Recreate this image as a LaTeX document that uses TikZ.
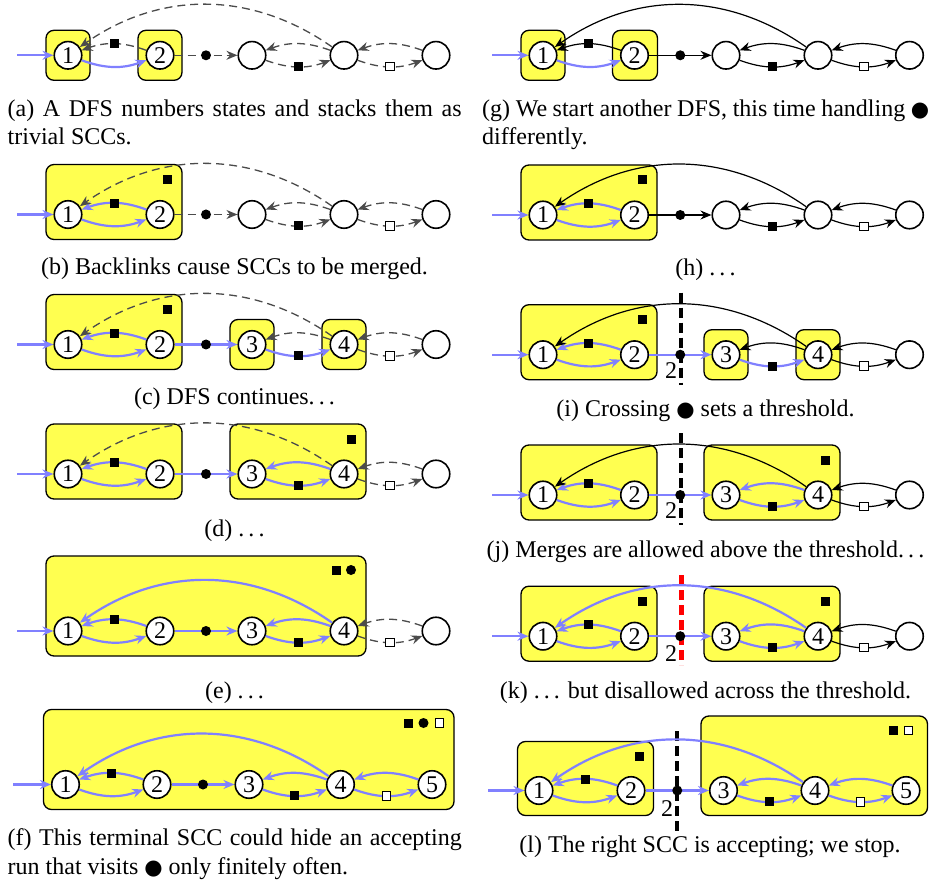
\documentclass[tikz,border=0pt]{standalone}
\usepackage{fontspec}
\setmainfont{Liberation Serif}
\newfontfamily\dejavu{DejaVu Sans}
\usetikzlibrary{arrows.meta}
\definecolor{sccy}{RGB}{255,255,80}
\definecolor{bedge}{RGB}{128,128,255}
\definecolor{gedge}{RGB}{75,75,75}
\newcommand{\bigdot}{{\fontsize{21}{21}\dejavu ●}}
\newcommand{\ldd}{.\kern0.17em.\kern0.17em.}
\newcommand{\alledges}[9]{%
 \draw[bl] (#10) -- (#11);
 \draw[#2] (#11) to[cv] (#12);
 \draw[#3] (#12) to[cv] node[msq]{} (#11);
 \draw[#4] (#12) -- node[mci]{} (#13);
 \draw[#5] (#13) to[cv] node[msq]{} (#14);
 \draw[#6] (#14) to[cv] (#13);
 \draw[#7] (#14) to[lg] (#11);
 \draw[#8] (#14) to[cv] node[mwsq]{} (#15);
 \draw[#9] (#15) to[cv] (#14);
}
\begin{document}
\begin{tikzpicture}[x=1pt,y=1pt,font=\fontsize{24}{28.8}\selectfont,
 st/.style={circle,draw,line width=1.6pt,fill=white,minimum size=27.5pt,inner sep=0pt},
 scc/.style={draw,line width=1.3pt,fill=sccy,rounded corners=8pt},
 bl/.style={draw=bedge,line width=2.2pt,-{Stealth[length=11pt,width=9pt]}},
 gd/.style={draw=gedge,line width=1.3pt,dash pattern=on 8pt off 5pt,-{Stealth[length=11pt,width=9pt]}},
 bk/.style={draw=black,line width=1.2pt,-{Stealth[length=11pt,width=9pt]}},
 msq/.style={rectangle,fill=black,draw=none,minimum size=9pt,inner sep=0pt,solid},
 mci/.style={circle,fill=black,draw=none,minimum size=10pt,inner sep=0pt,solid},
 mwsq/.style={rectangle,fill=white,draw=black,line width=1pt,solid,minimum size=8.5pt,inner sep=0pt},
 cv/.style={bend right=20},
 lg/.style={out=145,in=35,looseness=1.0},
 thb/.style={draw=black,line width=3.3pt,dash pattern=on 10pt off 5pt},
 thr/.style={draw=red,line width=5pt,dash pattern=on 10pt off 5pt},
 captxt/.style={anchor=base,inner sep=0pt},
 capl/.style={anchor=base west,inner sep=0pt}]
\useasboundingbox (0,0) rectangle (929,-882);

% ---------------- (a)
\begin{scope}[shift={(0,-55.3)}]
 \draw[scc] (46,-25) rectangle (90,25);
 \draw[scc] (138,-25) rectangle (182,25);
 \node[st] (a1) at (68,0) {1};
 \node[st] (a2) at (160,0) {2};
 \node[st] (a3) at (252,0) {};
 \node[st] (a4) at (344,0) {};
 \node[st] (a5) at (436,0) {};
 \coordinate (a0) at (17,0);
 \alledges{a}{bl}{gd}{gd}{gd}{gd}{gd}{gd}{gd}
\end{scope}
\node[capl] (capa1) at (7.5,-116.5) {\makebox[454pt][s]{(a) A DFS numbers states and stacks them as}};
\node[capl] (capa2) at (7.5,-145) {trivial SCCs.};

% ---------------- (b)
\begin{scope}[shift={(0,-214.5)}]
 \draw[scc] (46,-25) rectangle (182,50);
 \node[msq] (bm) at (167,35) {};
 \node[st] (b1) at (68,0) {1};
 \node[st] (b2) at (160,0) {2};
 \node[st] (b3) at (252,0) {};
 \node[st] (b4) at (344,0) {};
 \node[st] (b5) at (436,0) {};
 \coordinate (b0) at (17,0);
 \alledges{b}{bl}{bl}{gd}{gd}{gd}{gd}{gd}{gd}
\end{scope}
\node[captxt] (capb) at (234.5,-275) {(b) Backlinks cause SCCs to be merged.};

% ---------------- (c)
\begin{scope}[shift={(0,-344.5)}]
 \draw[scc] (46,-25) rectangle (182,50);
 \node[msq] (cm) at (167,35) {};
 \draw[scc] (230,-25) rectangle (274,25);
 \draw[scc] (322,-25) rectangle (366,25);
 \node[st] (c1) at (68,0) {1};
 \node[st] (c2) at (160,0) {2};
 \node[st] (c3) at (252,0) {3};
 \node[st] (c4) at (344,0) {4};
 \node[st] (c5) at (436,0) {};
 \coordinate (c0) at (17,0);
 \alledges{c}{bl}{bl}{bl}{bl}{gd}{gd}{gd}{gd}
\end{scope}
\node[captxt] (capc) at (234.5,-405) {(c) DFS continues\ldd};

% ---------------- (d)
\begin{scope}[shift={(0,-474)}]
 \draw[scc] (46,-25) rectangle (182,50);
 \draw[scc] (230,-25) rectangle (366,50);
 \node[msq] (dm) at (351,35) {};
 \node[st] (d1) at (68,0) {1};
 \node[st] (d2) at (160,0) {2};
 \node[st] (d3) at (252,0) {3};
 \node[st] (d4) at (344,0) {4};
 \node[st] (d5) at (436,0) {};
 \coordinate (d0) at (17,0);
 \alledges{d}{bl}{bl}{bl}{bl}{bl}{gd}{gd}{gd}
\end{scope}
\node[captxt] (capd) at (234.5,-536) {(d) \ldd};

% ---------------- (e)
\begin{scope}[shift={(0,-631)}]
 \draw[scc] (46,-25) rectangle (366,75);
 \node[msq] (em1) at (336,61) {};
 \node[mci] (em2) at (351,61) {};
 \node[st] (e1) at (68,0) {1};
 \node[st] (e2) at (160,0) {2};
 \node[st] (e3) at (252,0) {3};
 \node[st] (e4) at (344,0) {4};
 \node[st] (e5) at (436,0) {};
 \coordinate (e0) at (17,0);
 \alledges{e}{bl}{bl}{bl}{bl}{bl}{bl}{gd}{gd}
\end{scope}
\node[captxt] (cape) at (234.5,-698) {(e) \ldd};

% ---------------- (f)
\begin{scope}[shift={(0,-784.5)}]
 \draw[scc] (43.5,-25) rectangle (454,75);
 \node[msq] (fm1) at (408,61.5) {};
 \node[mci] (fm2) at (423.5,61.5) {};
 \node[mwsq] (fm3) at (439.5,61.5) {};
 \node[st] (f1) at (65.5,0) {1};
 \node[st] (f2) at (157,0) {2};
 \node[st] (f3) at (249,0) {3};
 \node[st] (f4) at (340.5,0) {4};
 \node[st] (f5) at (432,0) {5};
 \coordinate (f0) at (13,0);
 \alledges{f}{bl}{bl}{bl}{bl}{bl}{bl}{bl}{bl}
\end{scope}
\node[capl] (capf1) at (7.5,-845.5) {\makebox[454pt][s]{(f) This terminal SCC could hide an accepting}};
\node[capl] (capf2) at (7.5,-874) {run that visits \bigdot{} only finitely often.};

% ---------------- (g)
\begin{scope}[shift={(0,-55.3)}]
 \draw[scc] (521,-25) rectangle (565,25);
 \draw[scc] (612.5,-25) rectangle (657.5,25);
 \node[st] (g1) at (543,0) {1};
 \node[st] (g2) at (634.5,0) {2};
 \node[st] (g3) at (726,0) {};
 \node[st] (g4) at (818,0) {};
 \node[st] (g5) at (909.5,0) {};
 \coordinate (g0) at (492,0);
 \alledges{g}{bl}{bk}{bk}{bk}{bk}{bk}{bk}{bk}
\end{scope}
\node[capl] (capg1) at (482,-116.5) {\makebox[447pt][s]{(g) We start another DFS, this time handling \bigdot}};
\node[capl] (capg2) at (482,-145) {differently.};

% ---------------- (h)
\begin{scope}[shift={(0,-215)}]
 \draw[scc] (521,-25) rectangle (657,50);
 \node[msq] (hm) at (642,35) {};
 \node[st] (h1) at (543,0) {1};
 \node[st] (h2) at (634.5,0) {2};
 \node[st] (h3) at (726,0) {};
 \node[st] (h4) at (818,0) {};
 \node[st] (h5) at (909.5,0) {};
 \coordinate (h0) at (492,0);
 \alledges{h}{bl}{bl}{bk}{bk}{bk}{bk}{bk}{bk}
\end{scope}
\node[captxt] (caph) at (705.5,-276) {(h) \ldd};

% ---------------- (i)
\begin{scope}[shift={(0,-354.7)}]
 \draw[scc] (521,-25) rectangle (657,50);
 \node[msq] (im) at (642,35) {};
 \draw[scc] (704,-25) rectangle (748,25);
 \draw[scc] (796,-25) rectangle (840,25);
 \coordinate (it1) at (681,62);
 \coordinate (it2) at (681,-30);
 \draw[thb] (it1) -- (it2);
 \node (il) at (671,-16) {2};
 \node[st] (i1) at (543,0) {1};
 \node[st] (i2) at (634.5,0) {2};
 \node[st] (i3) at (726,0) {3};
 \node[st] (i4) at (818,0) {4};
 \node[st] (i5) at (909.5,0) {};
 \coordinate (i0) at (492,0);
 \alledges{i}{bl}{bl}{bl}{bl}{bk}{bk}{bk}{bk}
\end{scope}
\node[captxt] (capi) at (705.5,-417) {(i) Crossing \bigdot{} sets a threshold.};

% ---------------- (j)
\begin{scope}[shift={(0,-495)}]
 \draw[scc] (521,-25) rectangle (657,50);
 \draw[scc] (704,-25) rectangle (840,50);
 \node[msq] (jm) at (825,35) {};
 \coordinate (jt1) at (681,62);
 \coordinate (jt2) at (681,-30);
 \draw[thb] (jt1) -- (jt2);
 \node (jl) at (671,-16) {2};
 \node[st] (j1) at (543,0) {1};
 \node[st] (j2) at (634.5,0) {2};
 \node[st] (j3) at (726,0) {3};
 \node[st] (j4) at (818,0) {4};
 \node[st] (j5) at (909.5,0) {};
 \coordinate (j0) at (492,0);
 \alledges{j}{bl}{bl}{bl}{bl}{bl}{bk}{bk}{bk}
\end{scope}
\node[captxt] (capj) at (705.5,-557) {(j) Merges are allowed above the threshold\ldd};

% ---------------- (k)
\begin{scope}[shift={(0,-636.2)}]
 \draw[scc] (521,-25) rectangle (657,50);
 \node[msq] (km1) at (642,35) {};
 \draw[scc] (704,-25) rectangle (840,50);
 \node[msq] (km2) at (825,35) {};
 \coordinate (kt1) at (681,61);
 \coordinate (kt2) at (681,-29);
 \draw[thr] (kt1) -- (kt2);
 \node (kl) at (671,-17) {2};
 \node[st] (k1) at (543,0) {1};
 \node[st] (k2) at (634.5,0) {2};
 \node[st] (k3) at (726,0) {3};
 \node[st] (k4) at (818,0) {4};
 \node[st] (k5) at (909.5,0) {};
 \coordinate (k0) at (492,0);
 \alledges{k}{bl}{bl}{bl}{bl}{bl}{bl}{bk}{bk}
\end{scope}
\node[captxt] (capk) at (705.5,-698) {(k) \ldd{} but disallowed across the threshold.};

% ---------------- (l)
\begin{scope}[shift={(0,-790.5)}]
 \draw[scc] (517.5,-25) rectangle (653.5,49);
 \node[msq] (lm1) at (639,34.5) {};
 \draw[scc] (701,-25) rectangle (927.5,74.5);
 \node[msq] (lm2) at (893,60) {};
 \node[mwsq] (lm3) at (908.5,60) {};
 \coordinate (lt1) at (677,59.5);
 \coordinate (lt2) at (677,-40);
 \draw[thb] (lt1) -- (lt2);
 \node (ll) at (667,-18) {2};
 \node[st] (l1) at (539,0) {1};
 \node[st] (l2) at (631,0) {2};
 \node[st] (l3) at (723.5,0) {3};
 \node[st] (l4) at (815,0) {4};
 \node[st] (l5) at (906,0) {5};
 \coordinate (l0) at (488,0);
 \alledges{l}{bl}{bl}{bl}{bl}{bl}{bl}{bl}{bl}
\end{scope}
\node[captxt] (capl) at (710,-852) {(l) The right SCC is accepting; we stop.};
\end{tikzpicture}
\end{document}
